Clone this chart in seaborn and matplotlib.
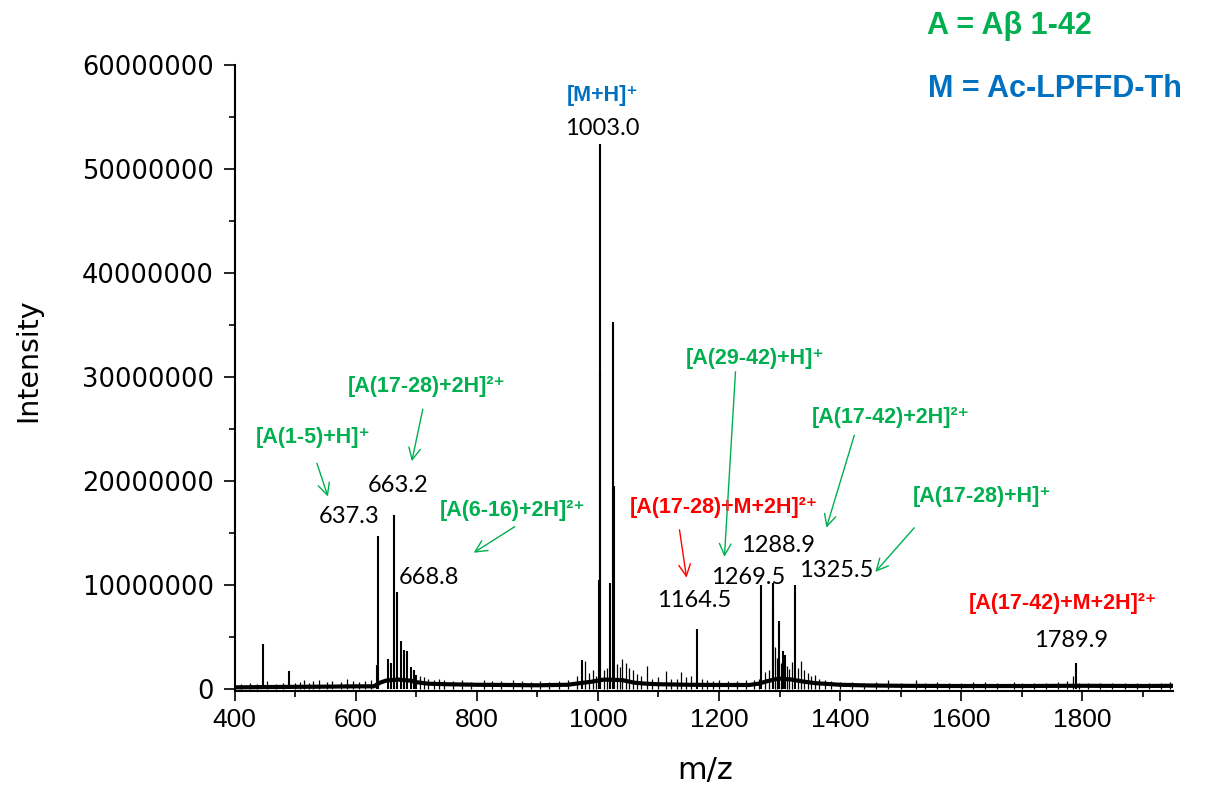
import numpy as np
import pandas as pd
import matplotlib
matplotlib.use("Agg")
import matplotlib.pyplot as plt
import seaborn as sns
from matplotlib.ticker import MultipleLocator, FixedLocator

# ---------------- data ----------------
# major peaks: m/z and intensity (millions)
peak_mz = [446.2, 489.6, 635.0, 637.3, 652.5, 659.0, 663.2, 668.8, 674.4, 679.9,
           684.9, 690.4, 695.9, 700.0, 974.0, 1002.0, 1003.0, 1004.0, 1019.3, 1024.8,
           1026.0, 1164.5, 1269.5, 1288.9, 1290.0, 1299.8, 1306.4, 1309.0, 1325.5, 1789.9]
peak_int = [4.3, 1.7, 2.3, 14.7, 2.9, 2.5, 16.7, 9.3, 4.6, 3.75,
            3.6, 2.1, 1.8, 1.35, 2.8, 10.5, 52.4, 30.5, 10.2, 35.3,
            19.5, 5.8, 10.0, 10.2, 8.5, 6.5, 3.6, 3.3, 10.0, 2.5]

# small noise spikes (m/z, intensity in millions)
noise_mz = [410, 425, 437, 454, 468, 480, 500, 508, 515, 523, 530, 540, 552, 560, 575, 585,
            595, 605, 615, 625, 706, 712, 720, 730, 738, 745, 760, 775, 790, 812, 825, 840,
            860, 875, 890, 905, 920, 935, 950, 966, 978, 986, 992, 997, 1010, 1015, 1032,
            1036, 1040, 1046, 1052, 1058, 1065, 1072, 1081, 1090, 1100, 1112, 1120, 1130,
            1137, 1146, 1154, 1172, 1180, 1190, 1200, 1215, 1230, 1245, 1258, 1266, 1276,
            1283, 1293, 1296, 1303, 1313, 1316, 1321, 1330, 1336, 1341, 1347, 1352, 1358,
            1365, 1375, 1385, 1400, 1420, 1440, 1460, 1479, 1500, 1525, 1540, 1560, 1580,
            1600, 1620, 1640, 1660, 1688, 1700, 1720, 1740, 1760, 1775, 1785, 1795, 1810,
            1830, 1850, 1870, 1890, 1910, 1930, 1945]
noise_int = [0.5, 0.6, 0.5, 0.8, 0.5, 0.6, 0.6, 0.7, 0.9, 0.6, 0.8, 0.9, 0.7, 0.8, 0.7, 1.0,
             0.8, 0.7, 0.8, 0.9, 1.2, 1.1, 1.0, 0.9, 1.0, 0.9, 0.8, 0.9, 0.7, 0.9, 0.8, 0.8,
             0.9, 0.8, 0.7, 0.8, 0.7, 0.8, 0.9, 1.2, 2.7, 1.5, 1.8, 1.2, 1.8, 2.0, 2.4,
             2.1, 2.9, 2.5, 2.0, 1.8, 1.4, 1.2, 2.2, 1.0, 1.1, 1.7, 1.0, 1.0,
             1.6, 1.1, 1.2, 1.0, 0.9, 0.8, 0.9, 0.8, 0.8, 0.9, 0.9, 1.0, 1.6,
             1.8, 4.0, 3.0, 2.5, 2.2, 1.9, 2.6, 2.0, 2.7, 1.8, 1.5, 1.2, 1.35,
             1.0, 0.9, 0.8, 0.7, 0.7, 0.6, 0.7, 0.9, 0.6, 0.9, 0.6, 0.7, 0.6,
             0.6, 0.7, 0.7, 0.6, 0.65, 0.6, 0.6, 0.6, 0.7, 0.8, 1.2, 0.6, 0.6,
             0.6, 0.6, 0.6, 0.6, 0.6, 0.6, 0.7]

# baseline level (m/z, intensity in millions)
baseline_mz = [400, 450, 500, 550, 600, 630, 640, 650, 670, 690, 700, 720, 750, 800, 850,
               900, 950, 970, 990, 1000, 1010, 1040, 1060, 1080, 1100, 1150, 1200, 1250,
               1265, 1280, 1300, 1320, 1340, 1360, 1400, 1450, 1500, 1600, 1700, 1780,
               1800, 1900, 1950]
baseline_int = [0.15, 0.18, 0.2, 0.22, 0.25, 0.25, 0.6, 0.8, 0.9, 0.8, 0.65, 0.5, 0.45, 0.4, 0.38,
                0.35, 0.4, 0.55, 0.7, 0.8, 0.9, 0.85, 0.6, 0.5, 0.45, 0.4, 0.38, 0.38,
                0.5, 0.75, 1.0, 0.9, 0.7, 0.55, 0.4, 0.33, 0.3, 0.28, 0.28, 0.3,
                0.3, 0.28, 0.3]

x_ticks = [400, 600, 800, 1000, 1200, 1400, 1600, 1800]
y_ticks = [0, 10000000, 20000000, 30000000, 40000000, 50000000, 60000000]
y_tick_labels = ["0", "10000000", "20000000", "30000000", "40000000", "50000000", "60000000"]

GREEN, RED, BLUE = "#00B050", "#FF0000", "#0070C0"

# annotation labels: (text, colour, m/z position, intensity position in millions)
species_labels = [
    ("[A(1-5)+H]⁺", GREEN, 530, 24.2),
    ("[A(17-28)+2H]²⁺", GREEN, 716.5, 29.1),
    ("[A(6-16)+2H]²⁺", GREEN, 858.4, 17.2),
    ("[A(17-28)+M+2H]²⁺", RED, 1207.4, 17.4),
    ("[A(29-42)+H]⁺", GREEN, 1259.4, 31.8),
    ("[A(17-42)+2H]²⁺", GREEN, 1483.8, 26.1),
    ("[A(17-28)+H]⁺", GREEN, 1634.0, 18.5),
    ("[A(17-42)+M+2H]²⁺", RED, 1767.6, 8.2),
    ("[M+H]⁺", BLUE, 1007.8, 57.1),
]
# peak value labels
mass_labels = [
    ("637.3", 588.6, 16.6), ("663.2", 669.5, 19.6), ("668.8", 720.6, 10.7),
    ("1003.0", 1007.8, 53.9), ("1164.5", 1159.7, 8.5), ("1269.5", 1248.7, 10.7),
    ("1288.9", 1298.2, 13.75), ("1325.5", 1393.9, 11.4), ("1789.9", 1781.7, 4.7),
]
# arrows: colour, (start m/z, start int), (end m/z, end int)
arrows = [
    (GREEN, (535.8, 21.7), (554.0, 18.5)),
    (GREEN, (710.7, 26.9), (692.6, 21.9)),
    (GREEN, (862.5, 15.6), (794.9, 13.1)),
    (RED, (1134.8, 15.3), (1146.4, 10.7)),
    (GREEN, (1227.3, 30.5), (1209.0, 12.7)),
    (GREEN, (1423.6, 24.4), (1377.4, 15.5)),
    (GREEN, (1522.6, 15.5), (1458.3, 11.25)),
]

# ---------------- plotting ----------------
sns.set_theme(style="ticks")
plt.rcParams["font.family"] = ["DejaVu Sans"]
lab_fam = ["Liberation Sans", "DejaVu Sans"]
num_fam = ["Lato", "DejaVu Sans"]

fig = plt.figure(figsize=(12.08, 7.89), dpi=100)
ax = fig.add_axes([0.1943, 0.1242, 0.7767, 0.7934])

base_df = pd.DataFrame({"mz": baseline_mz, "I": np.array(baseline_int) * 1e6})
sns.lineplot(data=base_df, x="mz", y="I", color="black", lw=3.0, ax=ax)
ax.vlines(noise_mz, 0, np.array(noise_int) * 1e6, color="black", lw=0.9)
ax.vlines(peak_mz, 0, np.array(peak_int) * 1e6, color="black", lw=1.5)

ax.set_xlim(400, 1950)
ax.set_ylim(-0.2e6, 60e6)
ax.xaxis.set_major_locator(FixedLocator(x_ticks))
ax.xaxis.set_minor_locator(MultipleLocator(100))
ax.yaxis.set_major_locator(FixedLocator(y_ticks))
ax.yaxis.set_minor_locator(MultipleLocator(5e6))
ax.set_yticklabels(y_tick_labels)
ax.set_xticklabels([str(v) for v in x_ticks])
for t in ax.get_xticklabels():
    t.set_family(["Liberation Sans"])
    t.set_fontsize(19)
for t in ax.get_yticklabels():
    t.set_fontsize(18.5)
ax.tick_params(axis="y", which="major", length=8, width=1.2, color="black", pad=7, labelcolor="black")
ax.tick_params(axis="x", which="major", length=7.5, width=1.2, color="black", pad=5, labelcolor="black")
ax.tick_params(which="minor", length=4, width=1.2, color="black")
for s in ["top", "right"]:
    ax.spines[s].set_visible(False)
for s in ["left", "bottom"]:
    ax.spines[s].set_linewidth(1.5)
    ax.spines[s].set_color("black")
ax.set_xlabel("")
ax.set_ylabel("")

fig.text(705 / 1208, 1 - 770 / 789, "m/z", fontsize=22, color="black", ha="center", va="center")
fig.text(28 / 1208, 1 - 360 / 789, "Intensity", fontsize=20.5, color="black",
         rotation=90, ha="center", va="center")

for text, col, x, y in species_labels:
    ax.text(x, y * 1e6, text, color=col, fontsize=15.5, fontweight="bold",
            family=lab_fam, ha="center", va="center")
for text, x, y in mass_labels:
    ax.text(x, y * 1e6, text, color="black", fontsize=17, family=num_fam,
            ha="center", va="center")
for col, (x1, y1), (x2, y2) in arrows:
    ax.annotate("", xy=(x2, y2 * 1e6), xytext=(x1, y1 * 1e6),
                arrowprops=dict(arrowstyle="->,head_length=0.7,head_width=0.35",
                                color=col, lw=1.0, shrinkA=0, shrinkB=0))

fig.text(0.7674, 0.967, "A = Aβ 1-42", color=GREEN, fontsize=22, fontweight="bold",
         family=lab_fam, ha="left", va="center")
fig.text(0.768, 0.8872, "M = Ac-LPFFD-Th", color=BLUE, fontsize=22, fontweight="bold",
         family=lab_fam, ha="left", va="center")

fig.savefig("out.png", dpi=100, facecolor="white")
